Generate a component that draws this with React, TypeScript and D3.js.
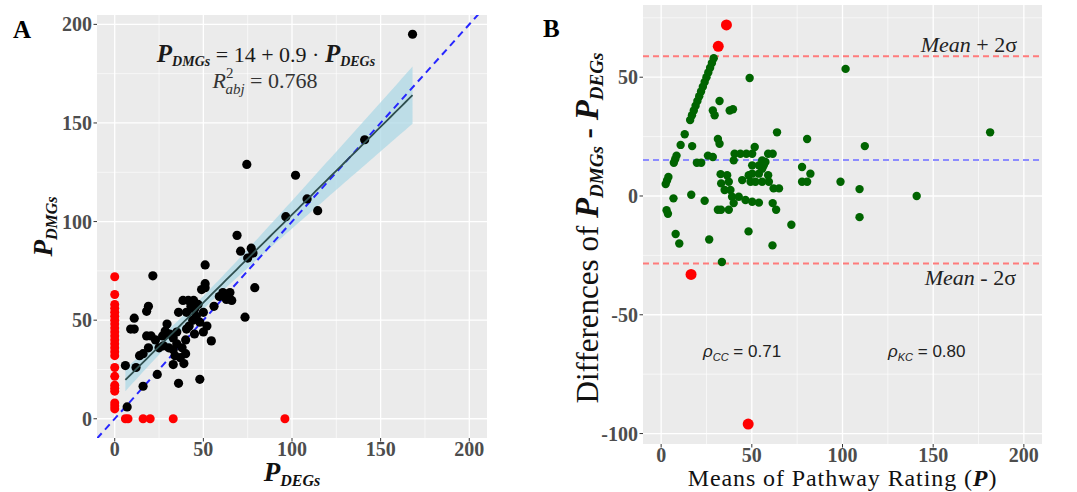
import React from 'react';
import * as d3 from 'd3';

// ---------- data ----------
const xTickValues = [0, 50, 100, 150, 200];
const yTickValuesA = [0, 50, 100, 150, 200];
const yTickValuesB = [-100, -50, 0, 50];

// Panel A: black points [P_DEGs, P_DMGs]
const aBlackPoints: [number, number][] = [
  [6, 27], [7, 6], [9, 45.5], [11, 45.5], [11, 51], [12, 26], [14, 32], [16, 16.5], [16, 33],
  [18, 54.5], [19, 57], [18, 42], [20.5, 42], [21.5, 72.5], [24, 22.5], [19, 36], [23, 40],
  [25, 36], [27, 42], [28.5, 44.5], [29.5, 48], [27.5, 37], [30.5, 36], [33, 35], [34, 32],
  [37, 31], [33, 27.5], [36, 18], [39, 28], [36, 54], [40.5, 54], [45, 55.5], [38.5, 60],
  [41.5, 60], [44.5, 60], [43, 57], [47, 58], [31, 43], [35, 44], [33, 41], [35, 38], [38, 36],
  [40, 33], [40, 40], [40.5, 45.5], [42, 47], [44, 50], [45, 43], [46, 52], [48, 49], [50, 54],
  [50, 44], [52, 47], [48, 20], [51, 78], [51, 68.5], [51, 66.5], [49, 65.5], [54.5, 39.5],
  [56, 57], [59, 62], [61, 64], [65, 64], [63, 60.5], [66, 60], [73.5, 51.5], [79, 66.5],
  [69, 93], [71, 85], [77, 86.5], [78, 84], [75, 81.5], [74.5, 129], [96.5, 102.5],
  [102, 123.5], [108.5, 111.5], [114.5, 105.5], [141, 141.5], [168, 195],
];
// Panel A: red points with P_DEGs = 0 (values are P_DMGs)
const aRedDegZero = [5, 6.5, 8, 14, 15.5, 17, 21.5, 26, 32, 34, 36, 38, 40, 42, 44, 46, 48, 50, 52, 54, 56, 58, 63, 72];
// Panel A: red points with P_DMGs = 0 (values are P_DEGs)
const aRedDmgZero = [6, 7.5, 16, 20, 33, 96];

// Panel B: diagonal streak (difference values, mean = diff / 2)
const bDiagonalDiffs = [5, 6.5, 8, 14, 15.5, 17, 21.5, 26, 32, 34, 36, 38, 40, 42, 44, 46, 48, 50, 52, 54, 56, 58];
// Panel B: other green points [mean, difference]
const bGreenPoints: [number, number][] = [
  [3, -6], [3.75, -7.5], [8, -16], [10, -20], [6.8, -1], [16.6, 0.5], [24, -2], [19.7, 14],
  [22.1, 14], [25.8, 17], [28.5, 16.4], [32.2, 40], [28.5, 36], [29.5, 34], [31.3, 24],
  [32.2, 22], [37.8, 36], [39.6, 36.5], [33.5, -27.8], [31.3, -5.8], [33, -5.8], [32.8, 9.2],
  [33.1, 5.3], [35, 2.5], [40.5, 17.8], [47, 17.8], [51.6, 20.6], [48.8, 49.7], [48.2, -14.9],
  [59, 17.8], [61.5, 17.8], [59, 8.75], [62, 3.2], [65, 3.2], [61.5, -3], [63.4, -5.8],
  [61.4, -20.8], [63.9, 26.8], [71.8, -12.1], [80.5, 24], [77.7, 12.2], [82.3, 9.4], [77.7, 6],
  [80.5, 6], [101.7, 53.5], [98.9, 6], [109.4, 2.9], [109.4, -8.9], [112.3, 21], [140.9, 0],
  [181.4, 26.8], [36.4, 8.75], [37.3, 6], [38.2, 2.5], [44.7, 6.7], [48.3, 8.75], [50.2, 9.4],
  [53.9, 9.4], [55.7, 11.5], [56.6, 12.9], [50.2, 12.9], [53.9, 12.9], [49.3, 6], [52, 6],
  [55.7, 6], [59.4, 6], [39.1, -0.3], [42.8, -0.3], [46.5, -1.7], [50.2, -2.4], [53.9, -2.8],
  [40, -3], [37.3, -5.8], [43.7, 17.8], [50.2, 17.8], [55.7, 15], [57.5, 14.3], [40, 15],
  [17.1, 21], [26.5, -18.3],
];
// Panel B: red outliers [mean, difference]
const bRedPoints: [number, number][] = [[31.5, 63], [36, 72], [16.5, -33], [48, -96]];
const bMeanDiff = 15.2;
const bSdDiff = 21.8;

// ---------- layout ----------
const A = { left: 97, right: 487, top: 15, bottom: 438 };
const B = { left: 643, right: 1042, top: 5, bottom: 444 };
const SERIF = "'Liberation Serif', 'Times New Roman', serif";
const SANS = "'Liberation Sans', Arial, sans-serif";
const PANEL_BG = '#EBEBEB';
const TICK_COL = '#4D4D4D';

function minorOf(ticks: number[], domain: [number, number]) {
  const step = ticks[1] - ticks[0];
  const out: number[] = [];
  for (let v = ticks[0] - step / 2; v <= domain[1]; v += step) {
    if (v >= domain[0]) out.push(v);
  }
  return out;
}

function Panel({ box, x, y, xTicks, yTicks, id, children }: any) {
  const xd = x.domain();
  const yd = y.domain();
  const xMinor = minorOf(xTicks, xd);
  const yMinor = minorOf(yTicks, yd);
  return (
    <g>
      <defs>
        <clipPath id={id}>
          <rect x={box.left} y={box.top} width={box.right - box.left} height={box.bottom - box.top} />
        </clipPath>
      </defs>
      <rect x={box.left} y={box.top} width={box.right - box.left} height={box.bottom - box.top} fill={PANEL_BG} />
      {xMinor.map((v) => (
        <line key={'xm' + v} x1={x(v)} x2={x(v)} y1={box.top} y2={box.bottom} stroke="#fff" strokeWidth={0.6} />
      ))}
      {yMinor.map((v) => (
        <line key={'ym' + v} y1={y(v)} y2={y(v)} x1={box.left} x2={box.right} stroke="#fff" strokeWidth={0.6} />
      ))}
      {xTicks.map((v: number) => (
        <line key={'xM' + v} x1={x(v)} x2={x(v)} y1={box.top} y2={box.bottom} stroke="#fff" strokeWidth={1.3} />
      ))}
      {yTicks.map((v: number) => (
        <line key={'yM' + v} y1={y(v)} y2={y(v)} x1={box.left} x2={box.right} stroke="#fff" strokeWidth={1.3} />
      ))}
      {xTicks.map((v: number) => (
        <g key={'xt' + v}>
          <line x1={x(v)} x2={x(v)} y1={box.bottom} y2={box.bottom + 3.5} stroke="#333" strokeWidth={1} />
          <text x={x(v)} y={box.bottom + 18} textAnchor="middle" fontFamily={SERIF} fontWeight="bold" fontSize={20} fill={TICK_COL}>
            {v}
          </text>
        </g>
      ))}
      {yTicks.map((v: number) => (
        <g key={'yt' + v}>
          <line x1={box.left - 3.5} x2={box.left} y1={y(v)} y2={y(v)} stroke="#333" strokeWidth={1} />
          <text x={box.left - 5} y={y(v) + 7} textAnchor="end" fontFamily={SERIF} fontWeight="bold" fontSize={20} fill={TICK_COL}>
            {v}
          </text>
        </g>
      ))}
      <g clipPath={`url(#${id})`}>{children}</g>
    </g>
  );
}

export default function App() {
  const xA = d3.scaleLinear().domain([-10, 210]).range([A.left, A.right]);
  const yA = d3.scaleLinear().domain([-9.75, 204.75]).range([A.bottom, A.top]);
  const xB = d3.scaleLinear().domain([-10, 210]).range([B.left, B.right]);
  const yB = d3.scaleLinear().domain([-104.4, 80.4]).range([B.bottom, B.top]);

  // linear fit on black points
  const n = aBlackPoints.length;
  const xbar = d3.mean(aBlackPoints, (d) => d[0]) as number;
  const ybar = d3.mean(aBlackPoints, (d) => d[1]) as number;
  const sxx = d3.sum(aBlackPoints, (d) => (d[0] - xbar) ** 2);
  const sxy = d3.sum(aBlackPoints, (d) => (d[0] - xbar) * (d[1] - ybar));
  const slope = sxy / sxx;
  const intercept = ybar - slope * xbar;
  const sse = d3.sum(aBlackPoints, (d) => (d[1] - (intercept + slope * d[0])) ** 2);
  const s = Math.sqrt(sse / (n - 2));
  const tval = 1.99;
  const [xmin, xmax] = d3.extent(aBlackPoints, (d) => d[0]) as [number, number];
  const grid = d3.range(0, 81).map((i) => xmin + ((xmax - xmin) * i) / 80);
  const band = grid.map((xv) => {
    const fit = intercept + slope * xv;
    const se = s * Math.sqrt(1 / n + (xv - xbar) ** 2 / sxx);
    return { x: xv, lo: fit - tval * se, hi: fit + tval * se, fit };
  });
  const areaGen = d3
    .area<any>()
    .x((d) => xA(d.x))
    .y0((d) => yA(d.lo))
    .y1((d) => yA(d.hi));
  const lineGen = d3
    .line<any>()
    .x((d) => xA(d.x))
    .y((d) => yA(d.fit));

  const limitHi = bMeanDiff + 2 * bSdDiff;
  const limitLo = bMeanDiff - 2 * bSdDiff;

  return (
    <svg width={1077} height={492} style={{ position: 'absolute', left: 0, top: 0, background: '#fff' }}>
      {/* Panel A */}
      <Panel box={A} x={xA} y={yA} xTicks={xTickValues} yTicks={yTickValuesA} id="clipA">
        <path d={areaGen(band) || ''} fill="#ADD8E6" fillOpacity={0.75} />
        <line
          x1={xA(-10)} y1={yA(-10)} x2={xA(210)} y2={yA(210)}
          stroke="#2626FF" strokeWidth={2} strokeDasharray="7,5"
        />
        {aRedDegZero.map((v, i) => (
          <circle key={'rz' + i} cx={xA(0)} cy={yA(v)} r={4.5} fill="#FF0000" />
        ))}
        {aRedDmgZero.map((v, i) => (
          <circle key={'rx' + i} cx={xA(v)} cy={yA(0)} r={4.5} fill="#FF0000" />
        ))}
        {aBlackPoints.map((d, i) => (
          <circle key={'b' + i} cx={xA(d[0])} cy={yA(d[1])} r={4.6} fill="#000" />
        ))}
        <path d={lineGen(band) || ''} fill="none" stroke="#2F4F4F" strokeWidth={1.8} />
      </Panel>

      {/* Equation */}
      <text x={266} y={62} textAnchor="middle" fontFamily={SERIF} fontSize={22} fill="#1a1a1a">
        <tspan fontWeight="bold" fontStyle="italic" fontSize={25}>P</tspan>
        <tspan fontWeight="bold" fontStyle="italic" fontSize={14} dy={4}>DMGs</tspan>
        <tspan dy={-4}>{' = 14 + 0.9 · '}</tspan>
        <tspan fontWeight="bold" fontStyle="italic" fontSize={25}>P</tspan>
        <tspan fontWeight="bold" fontStyle="italic" fontSize={14} dy={4}>DEGs</tspan>
      </text>
      <text x={265} y={88} textAnchor="middle" fontFamily={SERIF} fontSize={22} fill="#333">
        <tspan fontStyle="italic">R</tspan>
        <tspan fontSize={15} dy={-10}>2</tspan>
        <tspan fontSize={15} fontStyle="italic" dx={-8} dy={16}>abj</tspan>
        <tspan dy={-6}>{' = 0.768'}</tspan>
      </text>

      {/* A axis labels */}
      <text x={292} y={481} textAnchor="middle" fontFamily={SERIF} fill="#111">
        <tspan fontWeight="bold" fontStyle="italic" fontSize={27}>P</tspan>
        <tspan fontWeight="bold" fontStyle="italic" fontSize={16} dy={5}>DEGs</tspan>
      </text>
      <text transform={`translate(52, ${(A.top + A.bottom) / 2}) rotate(-90)`} textAnchor="middle" fontFamily={SERIF} fill="#111">
        <tspan fontWeight="bold" fontStyle="italic" fontSize={27}>P</tspan>
        <tspan fontWeight="bold" fontStyle="italic" fontSize={16} dy={5}>DMGs</tspan>
      </text>
      <text x={13} y={38} fontFamily={SERIF} fontWeight="bold" fontSize={25} fill="#000">A</text>

      {/* Panel B */}
      <Panel box={B} x={xB} y={yB} xTicks={xTickValues} yTicks={yTickValuesB} id="clipB">
        <line x1={B.left} x2={B.right} y1={yB(limitHi)} y2={yB(limitHi)} stroke="#FF7B7B" strokeWidth={2} strokeDasharray="6,4" />
        <line x1={B.left} x2={B.right} y1={yB(limitLo)} y2={yB(limitLo)} stroke="#FF7B7B" strokeWidth={2} strokeDasharray="6,4" />
        <line x1={B.left} x2={B.right} y1={yB(bMeanDiff)} y2={yB(bMeanDiff)} stroke="#8C8CFF" strokeWidth={2} strokeDasharray="6,4" />
        {bDiagonalDiffs.map((v, i) => (
          <circle key={'gd' + i} cx={xB(v / 2)} cy={yB(v)} r={4.2} fill="#006400" />
        ))}
        {bGreenPoints.map((d, i) => (
          <circle key={'g' + i} cx={xB(d[0])} cy={yB(d[1])} r={4.2} fill="#006400" />
        ))}
        {bRedPoints.map((d, i) => (
          <circle key={'r' + i} cx={xB(d[0])} cy={yB(d[1])} r={5.5} fill="#FF0000" />
        ))}
      </Panel>

      <text x={1017} y={52} textAnchor="end" fontFamily={SERIF} fontSize={22} fill="#222">
        <tspan fontStyle="italic">Mean</tspan>
        <tspan>{' + 2σ'}</tspan>
      </text>
      <text x={1016} y={285} textAnchor="end" fontFamily={SERIF} fontSize={22} fill="#222">
        <tspan fontStyle="italic">Mean</tspan>
        <tspan>{' - 2σ'}</tspan>
      </text>
      <text x={703} y={357} fontFamily={SANS} fontSize={17} fill="#222">
        <tspan fontStyle="italic">ρ</tspan>
        <tspan fontStyle="italic" fontSize={11} dy={4}>CC</tspan>
        <tspan dy={-4}>{' = 0.71'}</tspan>
      </text>
      <text x={888} y={357} fontFamily={SANS} fontSize={17} fill="#222">
        <tspan fontStyle="italic">ρ</tspan>
        <tspan fontStyle="italic" fontSize={11} dy={4}>KC</tspan>
        <tspan dy={-4}>{' = 0.80'}</tspan>
      </text>

      {/* B axis labels */}
      <text x={(B.left + B.right) / 2} y={486} textAnchor="middle" fontFamily={SERIF} fontSize={24} letterSpacing={0.9} fill="#111">
        <tspan>{'Means of Pathway Rating ('}</tspan>
        <tspan fontWeight="bold" fontStyle="italic">P</tspan>
        <tspan>{')'}</tspan>
      </text>
      <text transform={`translate(598, 228) rotate(-90)`} textAnchor="middle" fontFamily={SERIF} fontSize={31} fill="#111">
        <tspan>{'Differences of '}</tspan>
        <tspan fontWeight="bold" fontStyle="italic" fontSize={33}>P</tspan>
        <tspan fontWeight="bold" fontStyle="italic" fontSize={19} dy={5}>DMGs</tspan>
        <tspan fontWeight="bold" dy={-5}>{' - '}</tspan>
        <tspan fontWeight="bold" fontStyle="italic" fontSize={33}>P</tspan>
        <tspan fontWeight="bold" fontStyle="italic" fontSize={19} dy={5}>DEGs</tspan>
      </text>
      <text x={543} y={37} fontFamily={SERIF} fontWeight="bold" fontSize={25} fill="#000">B</text>
    </svg>
  );
}
